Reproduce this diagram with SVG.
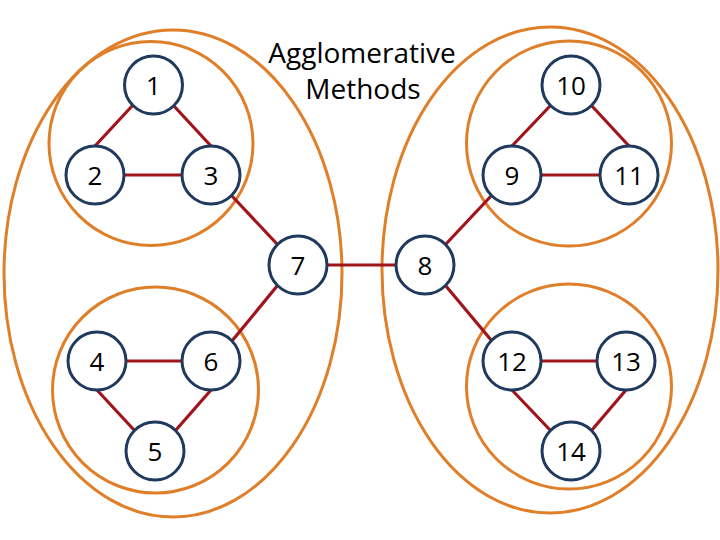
<svg xmlns="http://www.w3.org/2000/svg" width="720" height="540" viewBox="0 0 720 540">
<style>
.grp{fill:none;stroke:#E07F2A;stroke-width:3}
.edge{stroke:#A0141C;stroke-width:3.2;fill:none}
.node circle{fill:#FFFFFF;stroke:#1F3A5C;stroke-width:3}
.node text{font-family:"Open Sans","DejaVu Sans",sans-serif;font-size:26px;fill:#000;text-anchor:middle}
.title{font-family:"Open Sans","DejaVu Sans",sans-serif;font-size:28px;fill:#000;text-anchor:middle}
</style>
<rect width="720" height="540" fill="#FFFFFF"/>
<g id="clusters">
<ellipse class="grp" cx="173" cy="273.5" rx="169" ry="243.5"/>
<ellipse class="grp" cx="550" cy="270" rx="168" ry="243"/>
<circle class="grp" cx="151" cy="143.5" r="102"/>
<circle class="grp" cx="569" cy="143.5" r="102.5"/>
<circle class="grp" cx="155.5" cy="390" r="103"/>
<circle class="grp" cx="569" cy="386.5" r="102.5"/>
</g>
<g id="title">
<text class="title" x="362" y="63">Agglomerative</text>
<text class="title" x="363" y="99">Methods</text>
</g>
<g id="connectors">
<line class="edge" x1="132.5" y1="105.5" x2="95" y2="146"/>
<line class="edge" x1="173.5" y1="105.5" x2="211" y2="146"/>
<line class="edge" x1="124" y1="175" x2="182" y2="175"/>
<line class="edge" x1="231.5" y1="195.5" x2="277.5" y2="244.5"/>
<line class="edge" x1="327" y1="265" x2="396" y2="265"/>
<line class="edge" x1="277.5" y1="285.5" x2="231.5" y2="341.5"/>
<line class="edge" x1="445.5" y1="244.5" x2="491.5" y2="195.5"/>
<line class="edge" x1="445.5" y1="285.5" x2="491.5" y2="340.5"/>
<line class="edge" x1="512" y1="146" x2="550.5" y2="105.5"/>
<line class="edge" x1="591.5" y1="105.5" x2="629" y2="146"/>
<line class="edge" x1="541" y1="175" x2="600" y2="175"/>
<line class="edge" x1="126" y1="361" x2="182" y2="361"/>
<line class="edge" x1="97" y1="390" x2="134.5" y2="430.5"/>
<line class="edge" x1="175.5" y1="430.5" x2="211" y2="390"/>
<line class="edge" x1="541" y1="361" x2="597" y2="361"/>
<line class="edge" x1="512" y1="390" x2="550.5" y2="430.5"/>
<line class="edge" x1="626" y1="390" x2="591.5" y2="430.5"/>
</g>
<g id="n1" class="node"><circle cx="153.5" cy="85" r="29"/><text x="153.5" y="95">1</text></g>
<g id="n2" class="node"><circle cx="95" cy="175" r="29"/><text x="95" y="185">2</text></g>
<g id="n3" class="node"><circle cx="211" cy="175" r="29"/><text x="211" y="185">3</text></g>
<g id="n7" class="node"><circle cx="298" cy="265" r="29"/><text x="298" y="275">7</text></g>
<g id="n8" class="node"><circle cx="425" cy="265" r="29"/><text x="425" y="275">8</text></g>
<g id="n9" class="node"><circle cx="512" cy="175" r="29"/><text x="512" y="185">9</text></g>
<g id="n10" class="node"><circle cx="571" cy="85" r="29"/><text x="571" y="95">10</text></g>
<g id="n11" class="node"><circle cx="629" cy="175" r="29"/><text x="629" y="185">11</text></g>
<g id="n4" class="node"><circle cx="97" cy="361" r="29"/><text x="97" y="371">4</text></g>
<g id="n6" class="node"><circle cx="211" cy="361" r="29"/><text x="211" y="371">6</text></g>
<g id="n5" class="node"><circle cx="155" cy="451" r="29"/><text x="155" y="461">5</text></g>
<g id="n12" class="node"><circle cx="512" cy="361" r="29"/><text x="512" y="371">12</text></g>
<g id="n13" class="node"><circle cx="626" cy="361" r="29"/><text x="626" y="371">13</text></g>
<g id="n14" class="node"><circle cx="571" cy="451" r="29"/><text x="571" y="461">14</text></g>
</svg>
